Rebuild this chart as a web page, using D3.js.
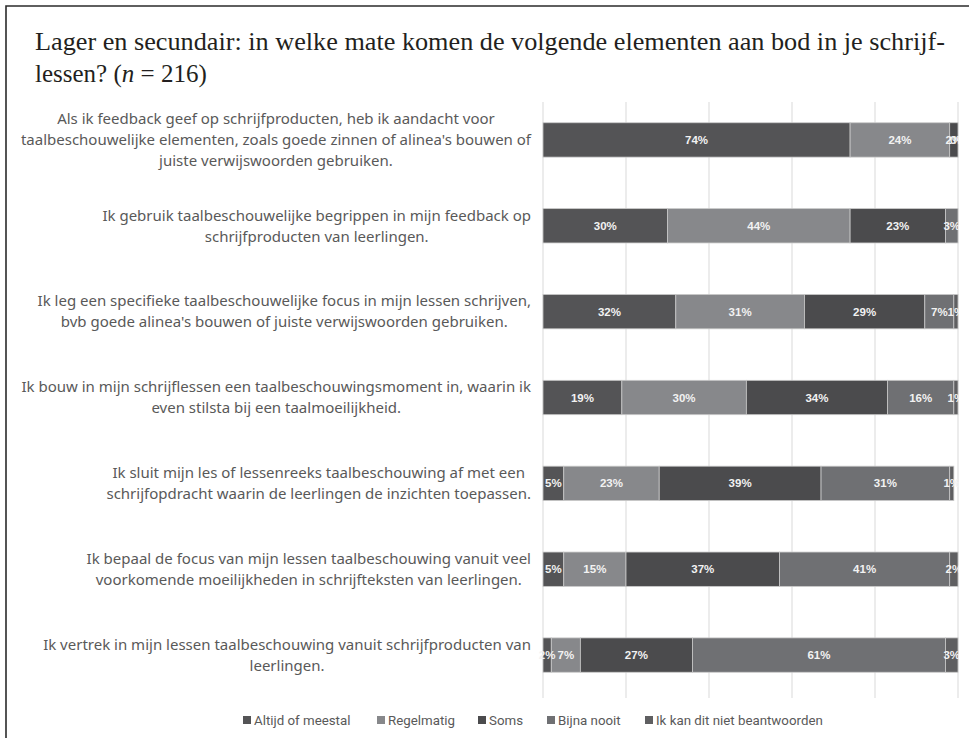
<!DOCTYPE html>
<html>
<head>
<meta charset="utf-8">
<script src="https://cdn.jsdelivr.net/npm/d3@7"></script>
<style>
  html, body { margin: 0; padding: 0; background: #fff; }
  svg { display: block; }
</style>
</head>
<body>
<svg id="chart" width="969" height="738"></svg>
<script>
// ── DATA ────────────────────────────────────────────────────
const titleLines = [
  'Lager en secundair: in welke mate komen de volgende elementen aan bod in je schrijf-',
  'lessen? (n = 216)'
];

const categories = [
  ['Als ik feedback geef op schrijfproducten, heb ik aandacht voor',
   'taalbeschouwelijke elementen, zoals goede zinnen of alinea\'s bouwen of',
   'juiste verwijswoorden gebruiken.'],
  ['Ik gebruik taalbeschouwelijke begrippen in mijn feedback op',
   'schrijfproducten van leerlingen.'],
  ['Ik leg een specifieke taalbeschouwelijke focus in mijn lessen schrijven,',
   'bvb goede alinea\'s bouwen of juiste verwijswoorden gebruiken.'],
  ['Ik bouw in mijn schrijflessen een taalbeschouwingsmoment in, waarin ik',
   'even stilsta bij een taalmoeilijkheid.'],
  ['Ik sluit mijn les of lessenreeks taalbeschouwing af met een',
   'schrijfopdracht waarin de leerlingen de inzichten toepassen.'],
  ['Ik bepaal de focus van mijn lessen taalbeschouwing vanuit veel',
   'voorkomende moeilijkheden in schrijfteksten van leerlingen.'],
  ['Ik vertrek in mijn lessen taalbeschouwing vanuit schrijfproducten van',
   'leerlingen.']
];

const seriesNames = ['Altijd of meestal', 'Regelmatig', 'Soms', 'Bijna nooit', 'Ik kan dit niet beantwoorden'];
const seriesColors = ['#545456', '#87888b', '#4b4b4d', '#6f7073', '#5f5f61'];

const altijd     = [74, 30, 32, 19, 5, 5, 2];
const regelmatig = [24, 44, 31, 30, 23, 15, 7];
const soms       = [2, 23, 29, 34, 39, 37, 27];
const bijnaNooit = [0, 3, 7, 16, 31, 41, 61];
const ikKanNiet  = [0, 0, 1, 1, 1, 2, 3];
const seriesValues = [altijd, regelmatig, soms, bijnaNooit, ikKanNiet];

const xTicks = [0, 20, 40, 60, 80, 100];

// ── LAYOUT ──────────────────────────────────────────────────
const PLOT_L = 543, PLOT_R = 958;
const PLOT_T = 97, PLOT_B = 698;
const LABEL_RIGHT = 531;
const FRAME_X = 6, FRAME_Y = 6;

const svg = d3.select('#chart');

const x = d3.scaleLinear().domain([0, 100]).range([PLOT_L, PLOT_R]);
const y = d3.scaleBand()
  .domain(d3.range(categories.length))
  .range([PLOT_T, PLOT_B])
  .paddingInner(0.6)
  .paddingOuter(0.3);

// frame (top + left)
svg.append('path')
  .attr('d', `M${FRAME_X},738 V${FRAME_Y} H969`)
  .attr('fill', 'none')
  .attr('stroke', '#2b2b2b')
  .attr('stroke-width', 1.6);

// title
const title = svg.append('text')
  .attr('font-family', '"Liberation Serif", "DejaVu Serif", serif')
  .attr('font-size', 25)
  .attr('fill', '#231f20');
title.append('tspan').attr('x', 35).attr('y', 50)
  .attr('textLength', 910).attr('lengthAdjust', 'spacingAndGlyphs')
  .text(titleLines[0]);
const t2 = title.append('tspan').attr('x', 35).attr('y', 82);
t2.append('tspan').text('lessen? (');
t2.append('tspan').attr('font-style', 'italic').text('n');
t2.append('tspan').text(' = 216)');

// gridlines
svg.append('g')
  .selectAll('line')
  .data(xTicks)
  .join('line')
  .attr('x1', d => x(d)).attr('x2', d => x(d))
  .attr('y1', 102).attr('y2', PLOT_B)
  .attr('stroke', '#d9d9d9')
  .attr('stroke-width', 1);

// stacked data
const rows = categories.map((c, i) => {
  const o = { idx: i };
  seriesNames.forEach((s, j) => { o[s] = seriesValues[j][i]; });
  return o;
});
const stacked = d3.stack().keys(seriesNames)(rows);

svg.append('defs').append('clipPath').attr('id', 'plotclip')
  .append('rect').attr('x', PLOT_L - 5).attr('y', 0).attr('width', PLOT_R - PLOT_L + 6).attr('height', 738);

const barG = svg.append('g');
stacked.forEach((layer, j) => {
  barG.append('g')
    .selectAll('rect')
    .data(layer)
    .join('rect')
    .attr('x', d => x(d[0]))
    .attr('y', (d, i) => y(i))
    .attr('width', d => x(d[1]) - x(d[0]))
    .attr('height', y.bandwidth())
    .attr('fill', seriesColors[j])
    .attr('stroke', '#c9c9c9')
    .attr('stroke-width', 0.8);
});

const labelG = svg.append('g').attr('clip-path', 'url(#plotclip)');
stacked.forEach((layer, j) => {
  labelG.append('g')
    .selectAll('text')
    .data(layer.filter((d, i) => seriesValues[j][i] > 0 || j === 3))
    .join('text')
    .attr('x', d => x((d[0] + d[1]) / 2))
    .attr('y', d => y(d.data.idx) + y.bandwidth() / 2)
    .attr('dy', '0.35em')
    .attr('text-anchor', 'middle')
    .attr('font-family', '"Liberation Sans", Arial, sans-serif')
    .attr('font-weight', 'bold')
    .attr('font-size', 11.5)
    .attr('fill', '#f2f2f2')
    .text(d => (d[1] - d[0]) + '%');
});

// category labels (centered block, right-aligned to the axis)
svg.append('defs').append('clipPath').attr('id', 'frameclip')
  .append('rect').attr('x', FRAME_X + 1).attr('y', 0).attr('width', 969).attr('height', 738);

const catG = svg.append('g').attr('clip-path', 'url(#frameclip)');
const LINE_H = 21;
categories.forEach((lines, i) => {
  const t = catG.append('text')
    .attr('font-family', '"Noto Sans", Roboto, sans-serif')
    .attr('font-size', 15)
    .attr('fill', '#595959')
    .attr('text-anchor', 'middle');
  const cy = y(i) + y.bandwidth() / 2;
  const spans = lines.map((l, k) => t.append('tspan')
    .attr('y', cy + (k - (lines.length - 1) / 2) * LINE_H)
    .attr('dy', '0.35em')
    .text(l));
  const maxW = d3.max(spans, s => s.node().getComputedTextLength());
  spans.forEach(s => s.attr('x', LABEL_RIGHT - maxW / 2));
});

// legend
const legendStarts = [243, 377, 478, 547, 645];
const legG = svg.append('g');
seriesNames.forEach((name, j) => {
  legG.append('rect')
    .attr('x', legendStarts[j]).attr('y', 716)
    .attr('width', 8).attr('height', 8)
    .attr('fill', seriesColors[j]);
  legG.append('text')
    .attr('x', legendStarts[j] + 11).attr('y', 720)
    .attr('dy', '0.35em')
    .attr('font-family', 'Roboto, "Noto Sans", sans-serif')
    .attr('font-size', 13.3)
    .attr('fill', '#595959')
    .text(name);
});
</script>
</body>
</html>
